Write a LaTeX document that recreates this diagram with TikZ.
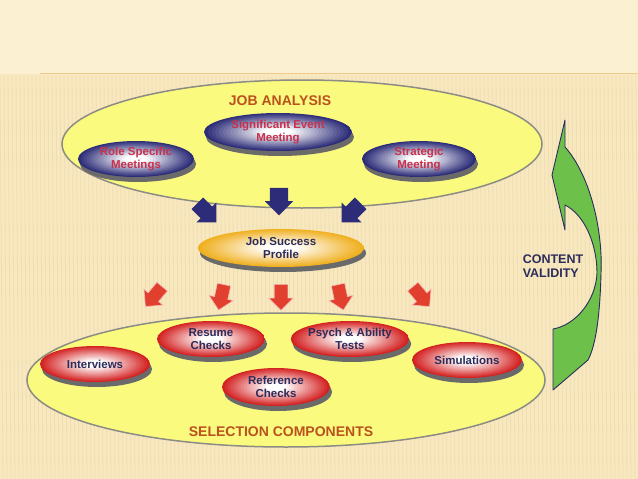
\documentclass[tikz,border=0pt]{standalone}
\usepackage{fontspec}
\setmainfont{Liberation Sans}
\usepackage{xcolor}
\usetikzlibrary{shapes.geometric}
\usetikzlibrary{shapes.arrows}
\usetikzlibrary{shadows}
\definecolor{paper}{HTML}{FCF0D3}
\definecolor{paperlow}{HTML}{F8E8C0}
\definecolor{stripe}{HTML}{EBD6A2}
\definecolor{rule}{HTML}{F2C88C}
\definecolor{fieldyellow}{HTML}{FAFA7E}
\definecolor{fieldgray}{HTML}{8C8C84}
\definecolor{titleorange}{HTML}{B9521E}
\definecolor{jobnavy}{HTML}{2C2C78}
\definecolor{meetred}{HTML}{C8304C}
\definecolor{compred}{HTML}{D42222}
\definecolor{profilegold}{HTML}{F0B020}
\definecolor{textnavy}{HTML}{2C2C5C}
\definecolor{arrowred}{HTML}{E2402E}
\definecolor{validgreen}{HTML}{6DC14B}
\definecolor{shadowgray}{HTML}{6A6A6A}
\newcommand\ringfill[1]{%
  \pgfpointdiff{\pgfpointanchor{path picture bounding box}{center}}{\pgfpointanchor{path picture bounding box}{north east}}%
  \pgfgetlastxy{\ringrx}{\ringry}%
  \foreach \k in {0,...,19}{%
    \pgfmathsetmacro\ringr{1-\k/20}%
    \pgfmathtruncatemacro\ringmix{100*max(0,(\ringr-0.2)/0.8)}%
    \fill[#1!\ringmix!white] (path picture bounding box.center) ellipse [x radius=\ringr*\ringrx, y radius=\ringr*\ringry];
  }}
\begin{document}
\begin{tikzpicture}[x=1pt,y=-1pt]
\tikzstyle{field} =[ellipse, draw=fieldgray, line width=1.5pt, fill=fieldyellow, inner sep=0pt]
\tikzstyle{disc} =[ellipse, inner sep=0pt, align=center, font=\bfseries\fontsize{11.5}{12.5}\selectfont, drop shadow={shadow xshift=2pt,shadow yshift=-5pt,fill=shadowgray,opacity=1}]
\tikzstyle{meeting} =[disc, path picture={\ringfill{jobnavy}}, text=meetred]
\tikzstyle{component} =[disc, path picture={\ringfill{compred}}, text=textnavy]
\tikzstyle{profile} =[disc, path picture={\ringfill{profilegold}}, text=textnavy]
\tikzstyle{title} =[font=\bfseries\fontsize{14}{16}\selectfont, text=titleorange]
\tikzstyle{bluearrow} =[single arrow, fill=jobnavy, inner sep=8pt, minimum height=27pt, single arrow head extend=6pt]
\tikzstyle{redarrow} =[single arrow, fill=arrowred, draw=white!65!arrowred, line width=0.6pt, inner sep=6.5pt, minimum height=26pt, single arrow head extend=5.5pt]

\useasboundingbox (0,0) rectangle (638,479);
\fill[paper] (0,0) rectangle (638,479);
\fill[paperlow] (0,74) rectangle (638,479);
\foreach \x in {0,4,...,636}
  \draw[stripe, line width=0.8pt, opacity=0.55] (\x,76) -- (\x+3,479);
\draw[rule, line width=0.6pt] (40,73) -- (638,73);

\node[field, minimum width=480pt, minimum height=128pt](jobfield) at (302,144){};
\node[field, minimum width=518pt, minimum height=134pt](selfield) at (286,380){};

\node[title](jobtitle) at (280,101){JOB ANALYSIS};
\node[title](seltitle) at (281,432){SELECTION COMPONENTS};

\node[bluearrow, rotate=-45](ja) at (204,210){};
\node[bluearrow, rotate=-90, inner sep=9pt, minimum height=23pt, single arrow head extend=5pt](jb) at (279,197){};
\node[bluearrow, rotate=-135](jc) at (354,210){};

\node[redarrow, rotate=-130](ra) at (156,294){};
\node[redarrow, rotate=-102](rb) at (222,294){};
\node[redarrow, rotate=-90](rc) at (281,294){};
\node[redarrow, rotate=-78](rd) at (340,294){};
\node[redarrow, rotate=-50](re) at (419,294){};

\node[meeting, minimum width=148pt, minimum height=38pt](sig) at (278,132){Significant Event\\Meeting};
\node[meeting, minimum width=116pt, minimum height=36pt](role) at (136,159){Role Specific\\Meetings};
\node[meeting, minimum width=114pt, minimum height=36pt](strat) at (419,159){Strategic\\Meeting};

\node[profile, minimum width=166pt, minimum height=38pt](jsp) at (281,248){Job Success\\Profile};

\node[component, minimum width=110pt, minimum height=36pt](inter) at (95,364){Interviews};
\node[component, minimum width=108pt, minimum height=36pt](resume) at (211,339){Resume\\Checks};
\node[component, minimum width=110pt, minimum height=36pt](psych) at (350,339){Psych \& Ability\\Tests};
\node[component, minimum width=108pt, minimum height=38pt](refer) at (276,387){Reference\\Checks};
\node[component, minimum width=110pt, minimum height=36pt](simul) at (467,360){Simulations};

\draw[draw=textnavy, fill=validgreen, line width=0.9pt, line join=round]
  (565,120) -- (565,147) .. controls (590,175) and (603,230) .. (601,273)
  .. controls (600,315) and (596,345) .. (588,360) -- (553,390) -- (553,329)
  .. controls (576,325) and (596,300) .. (597,273)
  .. controls (597,245) and (585,215) .. (565,205) -- (565,230) -- (552,175) -- cycle;

\node[font=\bfseries\fontsize{12.5}{14.5}\selectfont, text=textnavy, align=left](valid) at (553,266){CONTENT\\VALIDITY};
\end{tikzpicture}
\end{document}
